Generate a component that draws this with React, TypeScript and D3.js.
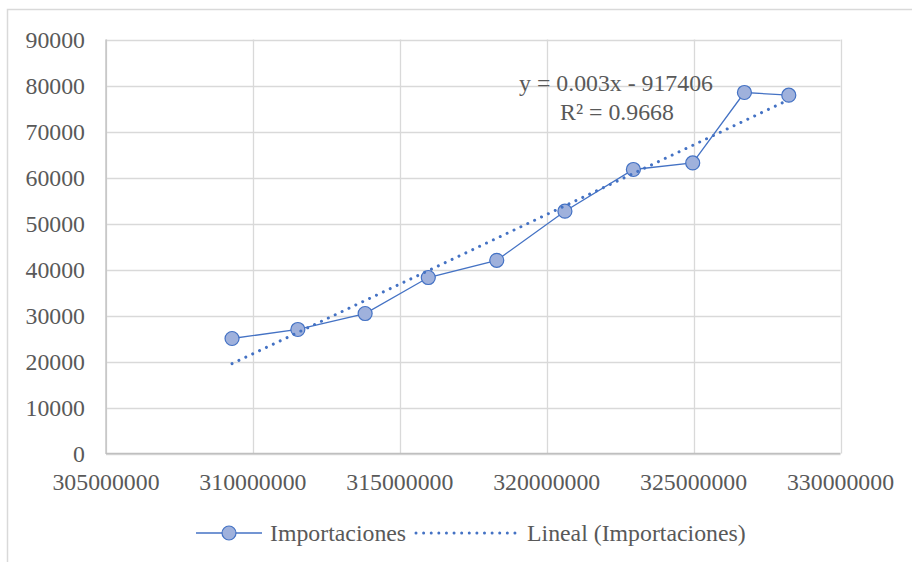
import React from "react";
import * as d3 from "d3";

const population: number[] = [309.29e6, 311.53e6, 313.82e6, 315.97e6, 318.3e6, 320.62e6, 322.95e6, 324.97e6, 326.73e6, 328.24e6];
const importaciones: number[] = [25000, 26960, 30430, 38260, 42000, 52670, 61740, 63170, 78480, 77890];
const xTicks: number[] = [305000000, 310000000, 315000000, 320000000, 325000000, 330000000];
const yTicks: number[] = [0, 10000, 20000, 30000, 40000, 50000, 60000, 70000, 80000, 90000];
const seriesName = "Importaciones";
const trendName = "Lineal (Importaciones)";
const equationLines = ["y = 0.003x - 917406", "R² = 0.9668"];

const W = 912;
const H = 562;
const FONT = "'Liberation Serif', 'Times New Roman', serif";
const TEXT = "#595959";
const GRID = "#d9d9d9";
const BLUE = "#4472c4";
const MARKER_FILL = "#9fb1dc";
const FS = 23.8;

export default function App() {
  const left = 106, right = 840.5, top = 39.5, bottom = 453.5;
  const x = d3.scaleLinear().domain([305000000, 330000000]).range([left, right]);
  const y = d3.scaleLinear().domain([0, 90000]).range([bottom, top]);

  const pts = population.map((p, i) => ({ x: p, y: importaciones[i] }));
  const mx = d3.mean(population)!;
  const my = d3.mean(importaciones)!;
  let sxx = 0, sxy = 0;
  pts.forEach((d) => { sxx += (d.x - mx) ** 2; sxy += (d.x - mx) * (d.y - my); });
  const slope = sxy / sxx;
  const intercept = my - slope * mx;
  const x0 = d3.min(population)!, x1 = d3.max(population)!;
  const trend = [{ x: x0, y: slope * x0 + intercept }, { x: x1, y: slope * x1 + intercept }];

  const line = d3.line<{ x: number; y: number }>().x((d) => x(d.x)).y((d) => y(d.y));

  return (
    <svg width={W} height={H} style={{ position: "absolute", left: 0, top: 0 }} fontFamily={FONT}>
      <rect x={0} y={0} width={W} height={H} fill="#fff" />
      <path d={`M7.5,${H + 5} V9.5 H${W + 5}`} fill="none" stroke={GRID} strokeWidth={1.5} />
      {yTicks.map((t) => (
        <line key={"gy" + t} x1={left} x2={right} y1={Math.round(y(t)) + 0.5} y2={Math.round(y(t)) + 0.5} stroke={GRID} strokeWidth={1.3} />
      ))}
      {xTicks.map((t) => (
        <line key={"gx" + t} x1={Math.round(x(t)) + 0.5} x2={Math.round(x(t)) + 0.5} y1={top} y2={bottom} stroke={GRID} strokeWidth={1.3} />
      ))}
      <line x1={left} x2={left} y1={top} y2={bottom + 0.5} stroke="#bfbfbf" strokeWidth={1.3} />
      <line x1={left} x2={right} y1={bottom} y2={bottom} stroke="#bfbfbf" strokeWidth={1.3} />
      {yTicks.map((t) => (
        <text key={"ty" + t} x={85} y={y(t)} dy="0.35em" textAnchor="end" fontSize={FS} fill={TEXT}>{t}</text>
      ))}
      {xTicks.map((t) => (
        <text key={"tx" + t} x={x(t)} y={482} dy="0.35em" textAnchor="middle" fontSize={FS} fill={TEXT}>{t}</text>
      ))}
      <path d={line(pts)!} fill="none" stroke={BLUE} strokeWidth={1.3} />
      {pts.map((d, i) => (
        <circle key={"p" + i} cx={x(d.x)} cy={y(d.y)} r={7} fill={MARKER_FILL} stroke={BLUE} strokeWidth={1.2} />
      ))}
      <path d={line(trend)!} fill="none" stroke={BLUE} strokeWidth={3} strokeDasharray="0.01 7.6" strokeLinecap="round" />
      <text x={616} y={83} dy="0.35em" textAnchor="middle" fontSize={FS} fill={TEXT}>{equationLines[0]}</text>
      <text x={617} y={112} dy="0.35em" textAnchor="middle" fontSize={FS} fill={TEXT}>{equationLines[1]}</text>
      <g>
        <line x1={196} x2={262} y1={533} y2={533} stroke={BLUE} strokeWidth={1.3} />
        <circle cx={229} cy={533} r={7} fill={MARKER_FILL} stroke={BLUE} strokeWidth={1.2} />
        <text x={270} y={533} dy="0.35em" fontSize={FS} fill={TEXT}>{seriesName}</text>
        <line x1={416} x2={520} y1={533} y2={533} stroke={BLUE} strokeWidth={3} strokeDasharray="0.01 7.6" strokeLinecap="round" />
        <text x={527} y={533} dy="0.35em" fontSize={FS} fill={TEXT}>{trendName}</text>
      </g>
    </svg>
  );
}
